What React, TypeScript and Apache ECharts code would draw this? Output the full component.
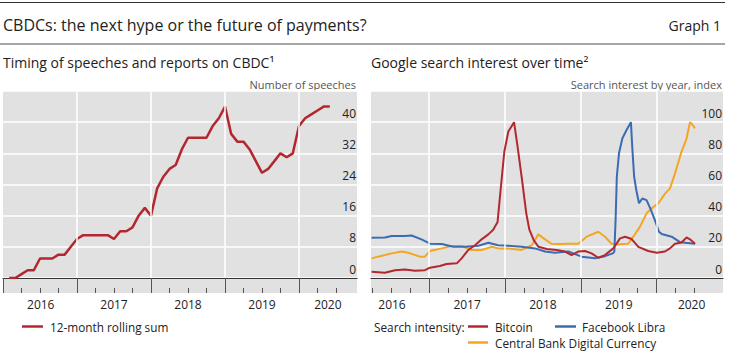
import React, { useEffect, useRef } from "react";
import * as echarts from "echarts";

const FONT = '"Open Sans", "Noto Sans", sans-serif';
const RED = "#b3282e";
const BLUE = "#3a6cb4";
const ORANGE = "#f4a623";
const BG = "#e1e1e1";
const TXT = "#222";

// Left panel: 12-month rolling sum of CBDC speeches, monthly from Jan 2016
const speechStartYear = 2016;
const speechCounts = [
  0, 0, 1, 2, 2, 5, 5, 5, 6, 6, 8, 10, 11, 11, 11, 11, 11, 10, 12, 12, 13, 16, 18, 16, 23,
  26, 28, 29, 33, 36, 36, 36, 36, 39, 41, 44, 37, 35, 35, 33, 30, 27, 28, 30, 32, 31, 32, 39,
  41, 42, 43, 44, 44,
];

// Right panel: Google search interest (index)
const bitcoinDates = [
  "2016-03-28", "2016-06-01", "2016-07-19", "2016-09-06", "2016-10-24", "2016-12-11",
  "2017-01-05", "2017-02-22", "2017-03-24", "2017-05-12", "2017-06-05", "2017-07-07",
  "2017-08-09", "2017-09-10", "2017-10-12", "2017-11-05", "2017-11-26", "2017-12-07",
  "2017-12-28", "2018-01-17", "2018-02-14", "2018-03-01", "2018-03-22", "2018-04-12",
  "2018-04-27", "2018-05-17", "2018-06-10", "2018-07-19", "2018-09-06", "2018-10-16",
  "2018-11-17", "2018-12-19", "2019-01-21", "2019-02-22", "2019-03-24", "2019-04-26",
  "2019-06-05", "2019-07-07", "2019-08-01", "2019-09-02", "2019-10-04", "2019-11-21",
  "2020-01-01", "2020-02-10", "2020-03-04", "2020-03-28", "2020-04-29", "2020-05-23",
  "2020-06-09", "2020-07-03",
];
const bitcoinValues = [
  4, 3.4, 5, 5.5, 4.7, 5, 6.6, 7.7, 9, 9.4, 12.6, 18, 21, 24.8, 28, 31, 36, 52, 81, 94, 100,
  84, 63, 41.5, 31, 24.4, 20, 18.6, 18, 17, 14.7, 17, 17.3, 15.8, 13, 14.7, 19, 25.4, 26.5,
  25, 20, 17.3, 16.2, 17, 19, 22, 22.8, 26, 24.8, 22,
];

const libraDates = [
  "2016-03-28", "2016-06-01", "2016-07-03", "2016-09-06", "2016-10-08", "2016-11-25",
  "2017-01-05", "2017-03-01", "2017-04-26", "2017-06-21", "2017-08-25", "2017-10-12",
  "2017-11-29", "2018-01-17", "2018-03-20", "2018-05-24", "2018-07-11", "2018-08-28",
  "2018-11-01", "2019-01-05", "2019-03-08", "2019-04-26", "2019-06-05", "2019-06-10",
  "2019-06-16", "2019-06-22", "2019-07-02", "2019-07-18", "2019-08-08", "2019-08-29",
  "2019-09-05", "2019-09-14", "2019-09-25", "2019-10-07", "2019-10-23", "2019-11-13",
  "2019-12-04", "2019-12-23", "2020-01-12", "2020-01-25", "2020-03-12", "2020-04-22",
  "2020-07-03",
];
const libraValues = [
  25.9, 26, 27, 27, 27.3, 24.8, 22, 21.8, 20, 20, 20.7, 22.6, 21, 20.7, 20, 19, 17, 16.2, 17,
  13.7, 12.6, 14, 16, 17, 37, 65, 80, 89.5, 95, 100, 84, 65, 56, 48, 51, 50, 43.6, 37, 29.7,
  28.2, 26.5, 23, 22,
];

const cbdcDates = [
  "2016-03-28", "2016-04-29", "2016-06-01", "2016-07-03", "2016-08-20", "2016-09-22",
  "2016-11-17", "2016-12-11", "2017-01-05", "2017-03-01", "2017-04-18", "2017-06-05",
  "2017-07-23", "2017-09-10", "2017-10-28", "2017-11-29", "2018-01-17", "2018-03-20",
  "2018-05-08", "2018-06-09", "2018-07-11", "2018-08-12", "2018-09-14", "2018-11-01",
  "2018-12-19", "2019-01-29", "2019-03-24", "2019-04-26", "2019-05-27", "2019-06-29",
  "2019-08-16", "2019-09-10", "2019-10-12", "2019-11-13", "2019-12-07", "2020-01-09",
  "2020-02-10", "2020-03-04", "2020-03-28", "2020-04-29", "2020-05-23", "2020-06-09",
  "2020-06-17", "2020-07-03",
];
const cbdcValues = [
  12.6, 13.7, 14.7, 15.8, 17, 16.2, 13.7, 13.7, 17.3, 19, 20.5, 20.5, 18, 18, 20, 19, 19, 18,
  21, 28, 24.8, 22, 21.8, 22, 22, 26.5, 29.7, 26.5, 22, 21.6, 22, 26.5, 33, 41.5, 44.7, 48,
  54, 57.5, 67, 81, 89.5, 100, 99, 96,
];

const yearTicks = [2016, 2017, 2018, 2019, 2020];
const yearLines = [2017, 2018, 2019, 2020];
const quarterTicks = [
  2016.25, 2016.5, 2016.75, 2017.25, 2017.5, 2017.75, 2018.25, 2018.5, 2018.75, 2019.25,
  2019.5, 2019.75, 2020.25, 2020.5,
];
const leftYearLabels = [2016.51, 2017.5, 2018.5, 2019.5, 2020.39];
const rightYearLabels = [2016.51, 2017.5, 2018.5, 2019.5, 2020.46];

function toYear(s: string): number {
  const [y, m, d] = s.split("-").map(Number);
  return y + (m - 1) / 12 + (d - 1) / 365;
}
function monthEnd(i: number): number {
  return speechStartYear + (i + 1) / 12;
}

const yearFmt = (v: number) => String(Math.floor(v + 1e-6));

function xAxes(gridIndex: number, min: number, max: number, labels: number[]) {
  return [
    {
      gridIndex,
      type: "value",
      min,
      max,
      axisLine: { show: true, lineStyle: { color: "#333", width: 1.2 } },
      axisTick: {
        show: true,
        customValues: yearTicks,
        length: 15,
        lineStyle: { color: "#555", width: 1 },
      },
      axisLabel: {
        show: true,
        customValues: labels,
        formatter: yearFmt,
        margin: 20,
        fontSize: 12,
        fontFamily: FONT,
        color: TXT,
      },
      splitLine: { show: false },
    },
    {
      gridIndex,
      type: "value",
      min,
      max,
      position: "bottom",
      offset: 10,
      axisLine: { show: false },
      axisTick: {
        show: true,
        customValues: quarterTicks,
        length: 5,
        lineStyle: { color: "#555", width: 1 },
      },
      axisLabel: { show: false },
      splitLine: { show: false },
    },
  ];
}

function yAxis(gridIndex: number, max: number, interval: number) {
  return {
    gridIndex,
    type: "value",
    position: "right",
    min: 0,
    max,
    interval,
    axisLine: { show: false },
    axisTick: { show: false },
    axisLabel: {
      inside: true,
      margin: 1,
      showMaxLabel: false,
      fontSize: 12,
      fontFamily: FONT,
      color: TXT,
      verticalAlign: "bottom",
      lineHeight: 14,
      padding: [0, 0, 2, 0],
    },
    splitLine: { show: true, lineStyle: { color: "#ffffff", width: 1.5 } },
  };
}

function yearLineSeries(xi: number, yi: number) {
  return {
    type: "line",
    xAxisIndex: xi,
    yAxisIndex: yi,
    data: [[yearLines[0], 0]],
    symbol: "none",
    lineStyle: { opacity: 0 },
    z: 1,
    silent: true,
    markLine: {
      silent: true,
      symbol: ["none", "none"],
      label: { show: false },
      lineStyle: { color: "#ffffff", width: 1.5, type: "solid", opacity: 1 },
      data: yearLines.map((x) => ({ xAxis: x })),
    },
  };
}

function txt(text: string, x: number, y: number, size: number, opts: any = {}) {
  return {
    type: "text",
    x,
    y,
    silent: true,
    style: {
      text,
      fill: opts.color || TXT,
      font: `${size}px ${FONT}`,
      lineHeight: size + 1,
      textAlign: opts.align || "left",
      textVerticalAlign: "middle",
      align: opts.align || "left",
      verticalAlign: "middle",
    },
  };
}
function seg(x1: number, x2: number, y: number, color: string, w: number) {
  return {
    type: "line",
    silent: true,
    shape: { x1, y1: y, x2, y2: y },
    style: { stroke: color, lineWidth: w },
  };
}

export default function App() {
  const ref = useRef<HTMLDivElement>(null);
  useEffect(() => {
    document.body.style.margin = "0";
    if (!ref.current) return;
    const chart = echarts.init(ref.current, undefined, { renderer: "svg" });
    const LG = 11.8;
    const option: any = {
      animation: false,
      grid: [
        { left: 3, top: 91, width: 354, height: 187, show: true, backgroundColor: BG, borderWidth: 0 },
        { left: 371, top: 91, width: 352, height: 187, show: true, backgroundColor: BG, borderWidth: 0 },
      ],
      xAxis: [
        ...xAxes(0, 2016, 2020.784, leftYearLabels),
        ...xAxes(1, 2016.233, 2020.874, rightYearLabels),
      ],
      yAxis: [yAxis(0, 48, 8), yAxis(1, 120, 20)],
      graphic: [
        { type: "rect", z: -10, silent: true, shape: { x: 3, y: 278, width: 354, height: 15 }, style: { fill: BG } },
        { type: "rect", z: -10, silent: true, shape: { x: 371, y: 278, width: 352, height: 15 }, style: { fill: BG } },
        seg(0, 725, 2.5, "#333", 1.2),
        seg(0, 725, 44, "#a6a6a6", 2),
        txt("CBDCs: the next hype or the future of payments?", 3, 25, 16),
        txt("Graph 1", 721, 25, 14, { align: "right" }),
        txt("Timing of speeches and reports on CBDC\u00b9", 3, 62, 14),
        txt("Google search interest over time\u00b2", 371, 62, 14),
        txt("Number of speeches", 356, 84, 11, { align: "right", color: "#555" }),
        txt("Search interest by year, index", 722, 84, 11, { align: "right", color: "#555" }),
        seg(22, 43, 326.5, RED, 2.5),
        txt("12-month rolling sum", 50, 326.5, LG),
        txt("Search intensity:", 374, 326.5, LG),
        seg(468, 488, 326.5, RED, 2.5),
        txt("Bitcoin", 495, 326.5, LG),
        seg(555, 576, 326.5, BLUE, 2.5),
        txt("Facebook Libra", 582, 326.5, LG),
        seg(468, 488, 342.5, ORANGE, 2.5),
        txt("Central Bank Digital Currency", 495, 342.5, LG),
      ],
      series: [
        yearLineSeries(0, 0),
        yearLineSeries(2, 1),
        {
          name: "12-month rolling sum",
          type: "line",
          xAxisIndex: 0,
          yAxisIndex: 0,
          data: speechCounts.map((v, i) => [monthEnd(i), v]),
          showSymbol: false,
          symbol: "none",
          lineStyle: { color: RED, width: 2.5 },
          z: 3,
        },
        {
          name: "Central Bank Digital Currency",
          type: "line",
          xAxisIndex: 2,
          yAxisIndex: 1,
          data: cbdcDates.map((d, i) => [toYear(d), cbdcValues[i]]),
          symbol: "none",
          lineStyle: { color: ORANGE, width: 2 },
          z: 3,
        },
        {
          name: "Facebook Libra",
          type: "line",
          xAxisIndex: 2,
          yAxisIndex: 1,
          data: libraDates.map((d, i) => [toYear(d), libraValues[i]]),
          symbol: "none",
          lineStyle: { color: BLUE, width: 2 },
          z: 4,
        },
        {
          name: "Bitcoin",
          type: "line",
          xAxisIndex: 2,
          yAxisIndex: 1,
          data: bitcoinDates.map((d, i) => [toYear(d), bitcoinValues[i]]),
          symbol: "none",
          lineStyle: { color: RED, width: 2 },
          z: 5,
        },
      ],
    };
    chart.setOption(option);
    return () => chart.dispose();
  }, []);
  return <div ref={ref} style={{ width: 730, height: 360 }} />;
}
